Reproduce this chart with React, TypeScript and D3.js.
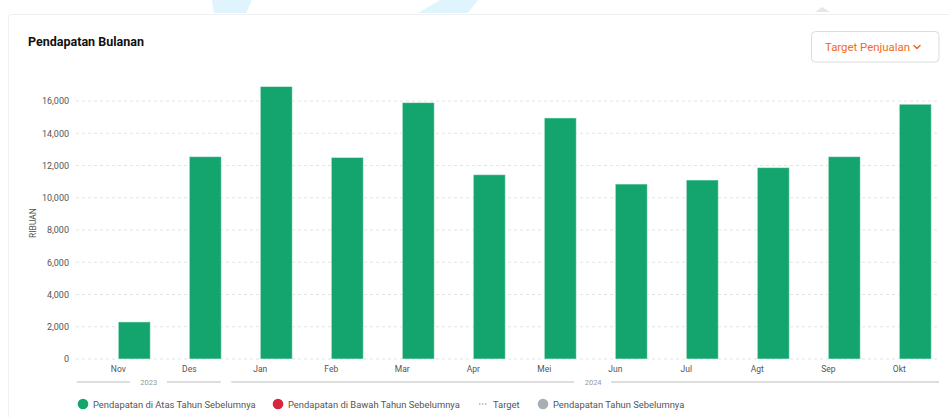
import React from "react";
import * as d3 from "d3";

const months = ["Nov", "Des", "Jan", "Feb", "Mar", "Apr", "Mei", "Jun", "Jul", "Agt", "Sep", "Okt"];
const revenue = [2300, 12550, 16900, 12500, 15900, 11430, 14950, 10850, 11100, 11870, 12550, 15800];
const yTicks = [0, 2000, 4000, 6000, 8000, 10000, 12000, 14000, 16000];
const yearGroups = [
  { year: "2023", first: "Nov", last: "Des" },
  { year: "2024", first: "Jan", last: "Okt" },
];
const legendItems = [
  { label: "Pendapatan di Atas Tahun Sebelumnya", kind: "dot", color: "#14a56f" },
  { label: "Pendapatan di Bawah Tahun Sebelumnya", kind: "dot", color: "#d7263d" },
  { label: "Target", kind: "dash", color: "#888" },
  { label: "Pendapatan Tahun Sebelumnya", kind: "dot", color: "#a9adb4" },
];

const W = 949;
const H = 417;
const FONT = "Roboto, 'Noto Sans', sans-serif";

export default function App() {
  const x = d3.scaleBand<string>().domain(months).range([82.8, 82.8 + 71 * 12]).padding(0);
  const y = d3.scaleLinear().domain([0, 16000]).range([359, 101]);
  const barW = 32;
  const fmt = d3.format(",");
  const gridX0 = 76;
  const gridX1 = 940;

  const center = (m: string) => (x(m) as number) + x.bandwidth() / 2;

  const segs = yearGroups.map((g, i) => {
    const start = i === 0 ? gridX0 + 0.7 : (x(g.first) as number) + 6.5;
    const end = i === yearGroups.length - 1 ? 939 : (x(g.last) as number) + x.bandwidth() - 4;
    return { ...g, start, end };
  });

  const legendPos = [83, 278, 479, 543];

  return (
    <div style={{ position: "absolute", left: 0, top: 0, width: W, height: H, overflow: "hidden" }}>
      <svg width={W} height={H} style={{ display: "block", fontFamily: FONT }}>
        <rect x={0} y={0} width={W} height={H} fill="#ffffff" />
        <polygon points="212,0 252,0 246,13 214,13" fill="#dff4fd" />
        <polygon points="440,0 478,0 468,13 418,13" fill="#dff4fd" />
        <polygon points="815,12 822,7 830,12" fill="#e6e6e6" />
        <rect x={8.5} y={14.5} width={960} height={420} rx={3} fill="#ffffff" stroke="#f0f0f0" strokeWidth={1} />

        <text x={28} y={46} fontSize={12.5} fontWeight={700} fill="#111">
          Pendapatan Bulanan
        </text>

        <rect x={811.5} y={31.5} width={127.5} height={30.5} rx={4} fill="#fff" stroke="#dcdcdc" />
        <text x={825} y={50.5} fontSize={11.4} fill="#f26b22">
          Target Penjualan
        </text>
        <path d="M914,45.5 L917,48.5 L920,45.5" fill="none" stroke="#f26b22" strokeWidth={1.6} strokeLinecap="round" strokeLinejoin="round" />

        {yTicks.map((t) => (
          <line key={t} x1={gridX0} x2={gridX1} y1={y(t)} y2={y(t)} stroke="#e4e4e4" strokeDasharray="3 3" />
        ))}
        {yTicks.map((t) => (
          <text key={t} x={69} y={y(t) + 3.3} fontSize={9} fill="#555" textAnchor="end">
            {fmt(t)}
          </text>
        ))}
        <text transform={`translate(36,223) rotate(-90)`} fontSize={8.5} fill="#555" textAnchor="middle">
          RIBUAN
        </text>

        {months.map((m, i) => (
          <rect
            key={m}
            x={center(m)}
            y={y(revenue[i])}
            width={barW}
            height={y(0) - y(revenue[i])}
            fill="#14a56f"
            stroke="#ffffff"
            strokeOpacity={0.5}
            strokeWidth={1}
          />
        ))}

        {months.map((m) => (
          <text key={m} x={center(m)} y={372} fontSize={8.5} fill="#555" textAnchor="middle">
            {m}
          </text>
        ))}

        {segs.map((s) => {
          const mid = (s.start + s.end) / 2 + (s.year === "2024" ? 8 : 0);
          return (
            <g key={s.year}>
              <line x1={s.start} x2={mid - 19} y1={382} y2={382} stroke="#dedede" strokeWidth={2} />
              <line x1={mid + 18} x2={s.end} y1={382} y2={382} stroke="#dedede" strokeWidth={2} />
              <text x={mid} y={385} fontSize={7.5} fill="#999" textAnchor="middle">
                {s.year}
              </text>
            </g>
          );
        })}

        {legendItems.map((it, i) => {
          const lx = legendPos[i];
          return (
            <g key={it.label}>
              {it.kind === "dot" ? (
                <circle cx={lx} cy={404} r={5.3} fill={it.color} />
              ) : (
                <line x1={lx} x2={lx + 8} y1={404} y2={404} stroke={it.color} strokeDasharray="1.5 1.5" strokeWidth={1} />
              )}
              <text x={lx + (it.kind === "dot" ? 10 : 14)} y={407.5} fontSize={9.4} fill="#555">
                {it.label}
              </text>
            </g>
          );
        })}
      </svg>
    </div>
  );
}
